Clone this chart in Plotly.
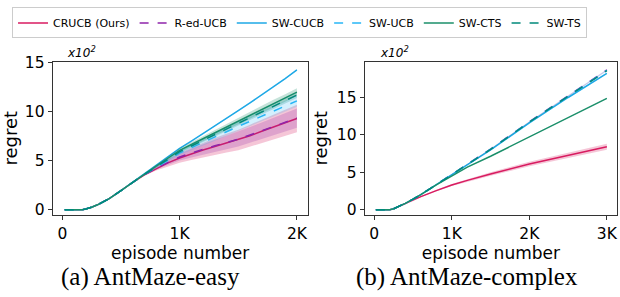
import plotly.graph_objects as go

# ---------------- data: panel (a) AntMaze-easy ----------------
XA = [20, 100, 170, 200, 250, 300, 350, 400, 500, 600, 700, 800, 900, 1000,
      1100, 1200, 1300, 1400, 1500, 1600, 1700, 1800, 1900, 2000]
EARLY_A = [0, 0, 0, 8, 25, 50, 80, 113, 195, 280]
A_CRUCB = EARLY_A + [355, 420, 478, 528, 570, 610, 645, 680, 712, 755, 800, 845, 888, 930]
A_RED = EARLY_A + [357, 425, 485, 537, 578, 618, 652, 686, 720, 762, 805, 850, 892, 935]
A_SWCUCB = EARLY_A + [368, 450, 537, 625, 700, 776, 853, 930, 1010, 1090, 1170, 1252, 1338, 1426]
A_SWUCB = EARLY_A + [360, 432, 505, 578, 632, 688, 742, 795, 850, 902, 955, 1005, 1058, 1110]
A_SWCTS = EARLY_A + [365, 445, 525, 605, 665, 725, 785, 845, 905, 965, 1025, 1085, 1140, 1200]
A_SWTS = EARLY_A + [362, 438, 515, 592, 650, 708, 765, 822, 880, 938, 995, 1055, 1112, 1170]
# band half-widths (std) read from the shaded areas
A_STD_CRUCB = [0]*10 + [8, 20, 35, 50, 62, 74, 86, 96, 105, 113, 120, 127, 134, 140]
A_STD_RED = [0]*10 + [8, 16, 26, 36, 45, 53, 61, 68, 75, 81, 86, 90, 94, 98]
A_STD_SWCUCB = [0]*10 + [1, 2, 3, 4, 4, 5, 5, 6, 6, 6, 7, 7, 7, 8]
A_STD_SWUCB = [0]*10 + [5, 10, 16, 22, 27, 32, 36, 40, 44, 48, 51, 54, 57, 60]
A_STD_SWCTS = [0]*10 + [6, 12, 17, 21, 24, 27, 29, 31, 33, 35, 36, 37, 39, 40]
A_STD_SWTS = [0]*10 + [4, 8, 12, 15, 18, 20, 22, 24, 25, 26, 27, 28, 29, 30]

# ---------------- data: panel (b) AntMaze-complex ----------------
XB = [20, 100, 200, 250, 300, 400, 500, 600, 800, 1000, 1200, 1500, 2000, 2500, 3000]
B_CRUCB = [0, 0, 0, 12, 35, 83, 130, 175, 255, 330, 392, 478, 610, 728, 842]
B_RED = [0, 0, 0, 12, 35, 85, 140, 200, 335, 468, 605, 810, 1175, 1520, 1868]
B_SWCUCB = [0, 0, 0, 12, 35, 85, 140, 200, 335, 465, 600, 800, 1160, 1500, 1823]
B_SWUCB = [0, 0, 0, 12, 35, 85, 140, 200, 335, 468, 605, 808, 1172, 1518, 1862]
B_SWCTS = [0, 0, 0, 12, 35, 85, 140, 200, 333, 455, 570, 715, 976, 1235, 1489]
B_SWTS = [0, 0, 0, 12, 35, 85, 140, 200, 335, 467, 604, 806, 1170, 1515, 1860]
B_STD_CRUCB = [0, 0, 0, 0, 0, 2, 4, 6, 10, 14, 18, 23, 30, 35, 40]
B_STD_RED = [0, 0, 0, 0, 0, 1, 2, 3, 4, 5, 6, 7, 8, 9, 10]
B_STD_SWCUCB = [0, 0, 0, 0, 0, 1, 2, 3, 4, 5, 6, 7, 8, 9, 10]
B_STD_SWUCB = [0, 0, 0, 0, 0, 1, 2, 3, 4, 5, 6, 7, 8, 9, 10]
B_STD_SWCTS = [0, 0, 0, 0, 0, 1, 1, 2, 2, 3, 3, 4, 4, 5, 5]
B_STD_SWTS = [0, 0, 0, 0, 0, 1, 1, 2, 2, 3, 3, 4, 4, 5, 5]

NAMES = ["CRUCB (Ours)", "R-ed-UCB", "SW-CUCB", "SW-UCB", "SW-CTS", "SW-TS"]
COLORS = ["#D81B60", "#8E24AA", "#1EA8E6", "#29B6F6", "#1B8F6A", "#00897B"]
DASHES = ["solid", "dash", "solid", "dash", "solid", "dash"]
BAND_ALPHA = [0.25, 0.22, 0.2, 0.2, 0.25, 0.2]

YT_A = [0, 500, 1000, 1500]
YT_A_TXT = ["0", "5", "10", "15"]
YT_B = [0, 500, 1000, 1500]
YT_B_TXT = ["0", "5", "10", "15"]
XT_A = [0, 1000, 2000]
XT_A_TXT = ["0", "1K", "2K"]
XT_B = [0, 1000, 2000, 3000]
XT_B_TXT = ["0", "1K", "2K", "3K"]

panel_a = [A_CRUCB, A_RED, A_SWCUCB, A_SWUCB, A_SWCTS, A_SWTS]
std_a = [A_STD_CRUCB, A_STD_RED, A_STD_SWCUCB, A_STD_SWUCB, A_STD_SWCTS, A_STD_SWTS]
panel_b = [B_CRUCB, B_RED, B_SWCUCB, B_SWUCB, B_SWCTS, B_SWTS]
std_b = [B_STD_CRUCB, B_STD_RED, B_STD_SWCUCB, B_STD_SWUCB, B_STD_SWCTS, B_STD_SWTS]


def rgba(hexc, a):
    h = hexc.lstrip("#")
    return "rgba(%d,%d,%d,%.2f)" % (int(h[0:2], 16), int(h[2:4], 16), int(h[4:6], 16), a)


fig = go.Figure()

for xs, series, stds, xa, ya, leg in [(XA, panel_a, std_a, "x", "y", True),
                                      (XB, panel_b, std_b, "x2", "y2", False)]:
    for i in range(6):
        m = series[i]
        s = stds[i]
        up = [v + d for v, d in zip(m, s)]
        lo = [v - d for v, d in zip(m, s)]
        fig.add_trace(go.Scatter(
            x=xs + xs[::-1], y=up + lo[::-1], fill="toself",
            fillcolor=rgba(COLORS[i], BAND_ALPHA[i]), line=dict(width=0),
            hoverinfo="skip", showlegend=False, xaxis=xa, yaxis=ya))
        fig.add_trace(go.Scatter(
            x=xs, y=m, mode="lines", name=NAMES[i],
            line=dict(color=COLORS[i], width=1.5, dash=DASHES[i]),
            showlegend=leg, xaxis=xa, yaxis=ya))

ax_common = dict(showline=True, linecolor="#333333", linewidth=1, mirror=True,
                 ticks="outside", ticklen=4, tickcolor="#333333", showgrid=False,
                 zeroline=False, automargin=False,
                 tickfont=dict(family="DejaVu Sans", size=15.5, color="black"))

fig.update_layout(
    width=620, height=297,
    margin=dict(l=0, r=0, t=0, b=0, autoexpand=False),
    paper_bgcolor="white", plot_bgcolor="white",
    font=dict(family="DejaVu Sans", color="black"),
    xaxis=dict(domain=[0.0850, 0.4963], range=[-82, 2092], tickvals=XT_A, ticktext=XT_A_TXT,
               anchor="y", title=dict(text="episode number", font=dict(size=17), standoff=2),
               **ax_common),
    yaxis=dict(domain=[0.2761, 0.7929], range=[-54, 1512], tickvals=YT_A, ticktext=YT_A_TXT,
               anchor="x", title=dict(text="regret", font=dict(size=18), standoff=4),
               **ax_common),
    xaxis2=dict(domain=[0.5882, 0.9952], range=[-124, 3131], tickvals=XT_B, ticktext=XT_B_TXT,
                anchor="y2", title=dict(text="episode number", font=dict(size=17), standoff=2),
                **ax_common),
    yaxis2=dict(domain=[0.2761, 0.7929], range=[-71, 1981], tickvals=YT_B, ticktext=YT_B_TXT,
                anchor="x2", title=dict(text="regret", font=dict(size=18), standoff=4),
                **ax_common),
    legend=dict(orientation="h", x=0.0194, y=0.975, xanchor="left", yanchor="top",
                bordercolor="#cccccc", borderwidth=1, bgcolor="white",
                font=dict(family="DejaVu Sans", size=11), itemwidth=30,
                tracegroupgap=0),
)

for xpos in [65 / 620, 378 / 620]:
    fig.add_annotation(text="<i>x10<sup>2</sup></i>", x=xpos, y=1 - 52 / 297,
                       xref="paper", yref="paper", xanchor="left", yanchor="middle",
                       showarrow=False, font=dict(family="DejaVu Sans", size=12, color="black"))

for txt, xc in [("(a) AntMaze-easy", 150 / 620), ("(b) AntMaze-complex", 467 / 620)]:
    fig.add_annotation(text=txt, x=xc, y=1 - 277 / 297, xref="paper", yref="paper",
                       xanchor="center", yanchor="middle", showarrow=False,
                       font=dict(family="Liberation Serif", size=25, color="black"))

fig.write_html("out.html", config={"displayModeBar": False},
               post_script="document.body.style.margin='0px';")
